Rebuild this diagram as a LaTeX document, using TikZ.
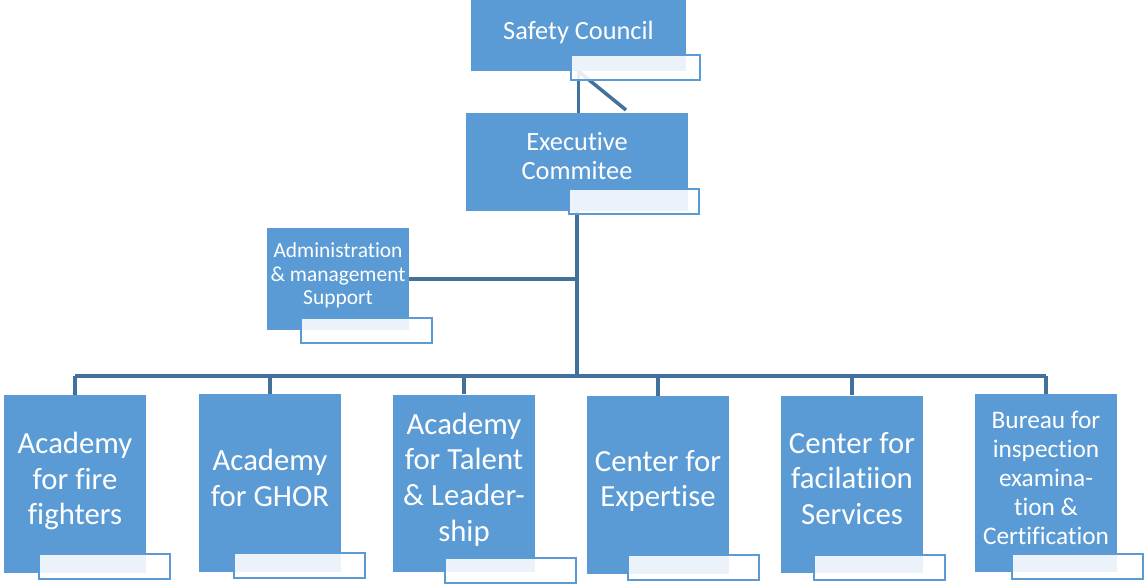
\documentclass[tikz,border=0pt]{standalone}
\usepackage{fontspec}
\setmainfont[Ligatures=NoCommon]{Carlito}
\definecolor{boxblue}{HTML}{5B9BD5}
\definecolor{lineblue}{HTML}{41719C}

\begin{document}
\begin{tikzpicture}[x=0.02cm,y=-0.02cm,
  unit/.style={fill=boxblue,inner sep=0pt,minimum width=2.84cm,minimum height=3.56cm},
  caption/.style={text=white,align=center,inner sep=0pt,font=\fontsize{17.5}{20.3}\selectfont},
  tab/.style={draw=boxblue,line width=1.3pt,fill=white,fill opacity=0.88,minimum width=2.62cm,minimum height=0.5cm,inner sep=0pt,anchor=south east},
  link/.style={draw=lineblue,line width=2pt}]
\useasboundingbox (0,0) rectangle (1145,585);

\node[unit,minimum width=4.3cm,minimum height=1.42cm](council) at (578.5,35.5){};
\node[unit,minimum width=4.44cm,minimum height=1.96cm](exec) at (577,162){};
\node[unit,minimum height=2.04cm](admin) at (338,279){};
\node[unit](fire) at (75,484){};
\node[unit](ghor) at (270,483){};
\node[unit](talent) at (464,483.5){};
\node[unit](expert) at (658,485){};
\node[unit](facil) at (852,484.5){};
\node[unit](bureau) at (1046,483){};

\node[caption,font=\fontsize{15}{16.5}\selectfont](counciltext) at (578.5,32){Safety Council};
\node[caption,font=\fontsize{15}{16.5}\selectfont](exectext) at (577,156.5){Executive\\Commitee};
\node[caption,font=\fontsize{12.2}{13.4}\selectfont](admintext) at (338,275.5){Administration\\\& management\\Support};
\node[caption](firetext) at (75,481){Academy\\for fire\\fighters};
\node[caption](ghortext) at (270,478){Academy\\for GHOR};
\node[caption](talenttext) at (464,479.5){Academy\\for Talent\\\& Leader-\\ship};
\node[caption](experttext) at (658,481){Center for\\Expertise};
\node[caption](faciltext) at (852,478.5){Center for\\facilatiion\\Services};
\node[caption,font=\fontsize{14.4}{16.5}\selectfont](bureautext) at (1046,478){Bureau for\\inspection\\examina-\\tion \&\\Certification};

% connectors
\coordinate (bus) at (578,376);
\coordinate (slant) at (626,110);
\draw[link](council.south)--(council.south |- exec.north);
\draw[link](council.south)--(slant);
\draw[link](exec.south)--(exec.south |- bus);
\draw[link](admin.east)--(admin.east -| exec.south);
\draw[link](fire.north |- bus)--(bureau.north |- bus);
\foreach \u in {fire,ghor,talent,expert,facil,bureau}
  \draw[link](\u.north)--(\u.north |- bus);

% tabs
\node[tab,minimum width=2.58cm](counciltab) at ([shift={(15,10)}]council.south east){};
\node[tab,minimum width=2.6cm](exectab) at ([shift={(12,4)}]exec.south east){};
\node[tab](admintab) at ([shift={(24,14)}]admin.south east){};
\node[tab](firetab) at ([shift={(25,7)}]fire.south east){};
\node[tab](ghortab) at ([shift={(25,7)}]ghor.south east){};
\node[tab](talenttab) at ([shift={(42,11)}]talent.south east){};
\node[tab](experttab) at ([shift={(31,7)}]expert.south east){};
\node[tab](faciltab) at ([shift={(23,7)}]facil.south east){};
\node[tab](bureautab) at ([shift={(27,8)}]bureau.south east){};
\end{tikzpicture}
\end{document}
